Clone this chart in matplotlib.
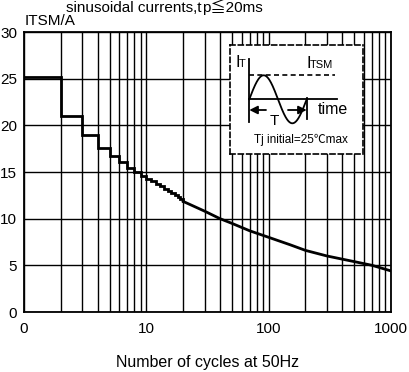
import numpy as np
import matplotlib.pyplot as plt

plt.rcParams['font.family'] = ['Liberation Sans', 'Noto Sans CJK SC', 'DejaVu Sans']

# stepped region: one value per cycle
cycles_step = [1, 2, 3, 4, 5, 6, 7, 8, 9, 10, 11, 12, 13, 14, 15, 16, 17, 18, 19, 20]
itsm_step = [25.2, 20.95, 18.95, 17.6, 16.7, 16.05, 15.45, 14.95, 14.55, 14.3,
             14.05, 13.75, 13.5, 13.2, 12.95, 12.75, 12.5, 12.3, 12.1, 11.85]

# smooth decay beyond 20 cycles
cycles_curve = [20, 30, 40, 50, 70, 100, 150, 200, 300, 500, 700, 1000]
itsm_curve = [11.85, 10.8, 10.0, 9.5, 8.7, 8.0, 7.2, 6.6, 6.0, 5.4, 5.0, 4.4]

x_ticks = [1, 10, 100, 1000]
x_ticklabels = ['0', '10', '100', '1000']
y_ticks = [0, 5, 10, 15, 20, 25, 30]

W, H = 409, 372
fig = plt.figure(figsize=(W / 100, H / 100), dpi=100)
ax = fig.add_axes([24 / W, 1 - 312 / H, 367 / W, 280 / H])

ax.set_xscale('log')
ax.set_xlim(1, 1000)
ax.set_ylim(0, 30)
ax.set_xticks(x_ticks)
ax.set_xticklabels(x_ticklabels)
ax.set_yticks(y_ticks)
ax.xaxis.set_minor_formatter(plt.NullFormatter())
ax.tick_params(which='both', length=0, labelsize=11, colors='black')
ax.tick_params(axis='x', pad=7)
ax.tick_params(axis='y', pad=5)
ax.grid(True, which='both', axis='x', color='black', linewidth=1.0)
ax.grid(True, which='major', axis='y', color='black', linewidth=1.0)
for sp in ax.spines.values():
    sp.set_linewidth(1.3)

ax.plot(cycles_step, itsm_step, drawstyle='steps-post', color='black', linewidth=2.0,
        solid_joinstyle='miter', zorder=5)
ax.plot(cycles_curve, itsm_curve, color='black', linewidth=2.0, zorder=5)

ax.set_xlabel('Number of cycles at 50Hz', fontsize=11.5, labelpad=14)

fig.text(202 / W, 1 - 12 / H, 'sinusoidal currents,t', fontsize=11, ha='right', va='baseline')
fig.text(202 / W, 1 - 12 / H, 'p\u2266' + '20ms', fontsize=11, ha='left', va='baseline')
fig.text(25 / W, 1 - 25 / H, 'ITSM/A', fontsize=11, ha='left', va='baseline')

# waveform sketch in a dashed box
ins = fig.add_axes([230 / W, 1 - 154 / H, 133 / W, 109 / H])
ins.set_facecolor('white')
ins.set_xlim(0, 133)
ins.set_ylim(109, 0)
ins.set_xticks([])
ins.set_yticks([])
for sp in ins.spines.values():
    sp.set_linestyle((0, (3, 2)))
    sp.set_linewidth(1.2)

x0, x1, y0, amp = 19.3, 76.7, 54.3, 24
t = np.linspace(0, 1, 200)
ins.plot(x0 + t * (x1 - x0), y0 - amp * np.sin(2 * np.pi * t), color='black', linewidth=1.3)
ins.plot([x0, x0], [14, 77], color='black', linewidth=1.3)
ins.plot([x0, 106.7], [y0, y0], color='black', linewidth=1.3)
ins.plot([x0, 105], [y0 - amp, y0 - amp], color='black', linewidth=1.2, linestyle=(0, (3, 2)))
ins.plot([x1, x1], [y0 - 1, 74], color='black', linewidth=1.3)
ins.annotate('', xy=(x0, 65), xytext=(36, 65),
             arrowprops=dict(arrowstyle='-|>', color='black', lw=1.3, mutation_scale=12,
                             shrinkA=0, shrinkB=0))
ins.annotate('', xy=(x1, 65), xytext=(58, 65),
             arrowprops=dict(arrowstyle='-|>', color='black', lw=1.3, mutation_scale=12,
                             shrinkA=0, shrinkB=0))
ins.text(44, 76, 'T', fontsize=11, ha='center', va='center')
ins.text(5, 22, 'I', fontsize=12, ha='left', va='baseline')
ins.text(9, 22, 'T', fontsize=8, ha='left', va='baseline')
ins.text(76, 23, 'I', fontsize=12, ha='left', va='baseline')
ins.text(80, 23, 'TSM', fontsize=8, ha='left', va='baseline')
ins.text(88, 69, 'time', fontsize=11.5, ha='left', va='baseline')
ins.text(71, 95, 'Tj initial=25\u2103max', fontsize=8.5, ha='center', va='center')

fig.savefig('out.png', dpi=100)
